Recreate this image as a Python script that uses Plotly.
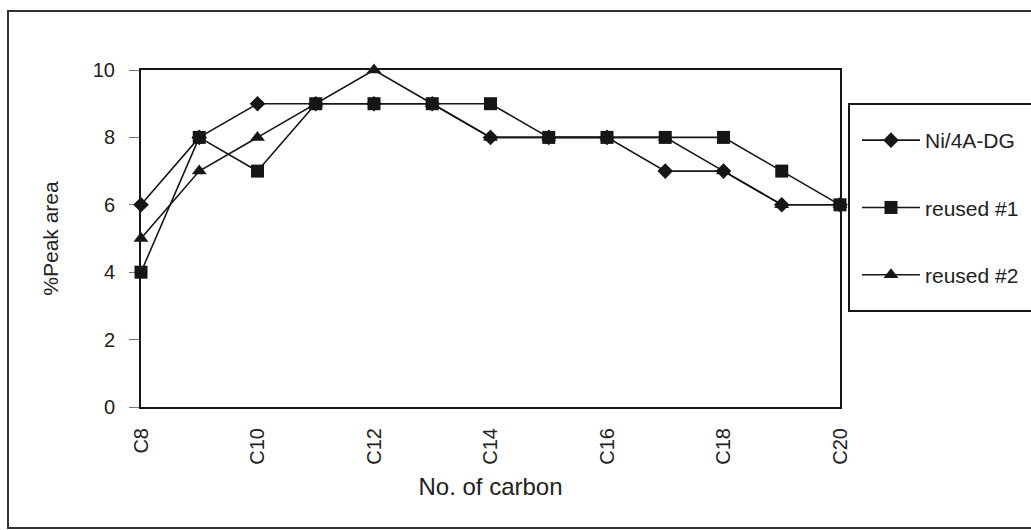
import plotly.graph_objects as go

# Carbon number categories and %peak area of each catalyst run
carbons = ["C8", "C9", "C10", "C11", "C12", "C13", "C14",
           "C15", "C16", "C17", "C18", "C19", "C20"]
ni_4a_dg = [6, 8, 9, 9, 9, 9, 8, 8, 8, 7, 7, 6, 6]
reused_1 = [4, 8, 7, 9, 9, 9, 9, 8, 8, 8, 8, 7, 6]
reused_2 = [5, 7, 8, 9, 10, 9, 8, 8, 8, 8, 7, 6, 6]
tick_labels = ["C8", "C10", "C12", "C14", "C16", "C18", "C20"]
y_ticks = [0, 2, 4, 6, 8, 10]

FONT = "Liberation Sans, Arial, sans-serif"
INK = "#161616"
W, H = 1031, 530

series = [
    ("Ni/4A-DG", ni_4a_dg, "diamond", 12),
    ("reused #1", reused_1, "square", 13),
    ("reused #2", reused_2, "triangle-up", 13),
]

fig = go.Figure()
for name, vals, sym, size in series:
    fig.add_trace(go.Scatter(
        x=carbons, y=vals, name=name, mode="lines+markers",
        line=dict(color=INK, width=1.6),
        marker=dict(symbol=sym, size=size, color=INK,
                    line=dict(color=INK, width=0)),
        cliponaxis=False, legendgroup=name,
    ))

fig.update_layout(
    width=W, height=H,
    margin=dict(l=141, r=191, t=70, b=123, autoexpand=False),
    paper_bgcolor="white", plot_bgcolor="white",
    font=dict(family=FONT, color="#222", size=20),
    showlegend=True,
    legend=dict(
        xref="container", yref="container",
        x=857 / W, y=1 - 120 / H,
        xanchor="left", yanchor="top",
        bgcolor="rgba(0,0,0,0)", borderwidth=0,
        tracegroupgap=37, font=dict(size=21, color="#222"),
        itemwidth=58,
    ),
    xaxis=dict(
        type="category", categoryorder="array", categoryarray=carbons,
        range=[0, 12], tickmode="array", tickvals=tick_labels,
        ticktext=tick_labels, tickangle=-90, ticks="",
        ticklabelstandoff=11,
        showgrid=False, zeroline=False,
        showline=True, linecolor=INK, linewidth=2, mirror=True,
        layer="below traces",
        tickfont=dict(size=20),
        title=dict(text="No. of carbon", font=dict(size=24), standoff=14),
    ),
    yaxis=dict(
        range=[0, 10], tickmode="array", tickvals=y_ticks,
        ticks="outside", ticklen=10, tickcolor="#777", tickwidth=1,
        ticklabelstandoff=10,
        showgrid=False, zeroline=False,
        showline=True, linecolor=INK, linewidth=2, mirror=True,
        layer="below traces",
        tickfont=dict(size=20),
        title=dict(text="%Peak area", font=dict(size=21), standoff=28),
    ),
)

# Legend frame and outer chart frame
fig.add_shape(type="rect", xref="paper", yref="paper",
              x0=(849 - 141) / 699, x1=(1045 - 141) / 699,
              y0=(407 - 311) / 337, y1=(407 - 104) / 337,
              line=dict(color=INK, width=2), fillcolor="rgba(0,0,0,0)")
fig.add_shape(type="rect", xref="paper", yref="paper",
              x0=(8 - 141) / 699, x1=(1045 - 141) / 699,
              y0=(407 - 528) / 337, y1=(407 - 11) / 337,
              line=dict(color="#333", width=2), fillcolor="rgba(0,0,0,0)")

fig.write_html("out.html")
